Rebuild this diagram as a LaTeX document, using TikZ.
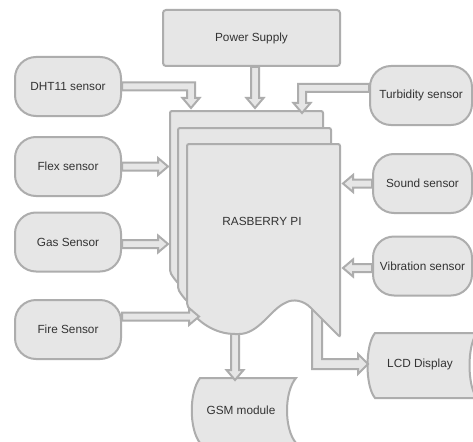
\documentclass[tikz,border=0pt]{standalone}
\usepackage{fontspec}
\setmainfont{Liberation Sans}
\usetikzlibrary{calc}
\definecolor{shapefill}{HTML}{E6E6E6}
\definecolor{shapeline}{HTML}{ADADAD}
\definecolor{txtcol}{HTML}{333333}
\newcommand\diagfont{\fontsize{11.8}{13}\selectfont}
\tikzset{
  base/.style={draw=shapeline, fill=shapefill, line width=2pt},
  sensor/.style={base, rounded corners=21pt, minimum width=106pt, minimum height=59pt, inner sep=0pt, text=txtcol, font=\diagfont},
  lbl/.style={text=txtcol, font=\diagfont, inner sep=0pt},
  barrow/.style={base, line join=miter},
  docshape/.pic={\draw[base, rounded corners=2pt] (187,144) -- (340,144) -- (340,337) -- (312,309)
     .. controls (303,300) and (293,299) .. (285,303)
     .. controls (270,311) and (258,334) .. (237,334)
     .. controls (215,334) and (197,322) .. (187,305) -- cycle;}
}
\newcommand\blockarrow[2]{%
  \coordinate (hb) at ($(#2)!10pt!(#1)$);
  \draw[barrow] ($(#1)!4pt!90:(#2)$) -- ($(hb)!4pt!-90:(#1)$) -- ($(hb)!8.5pt!-90:(#1)$) -- (#2)
    -- ($(hb)!8.5pt!90:(#1)$) -- ($(hb)!4pt!90:(#1)$) -- ($(#1)!4pt!-90:(#2)$) -- cycle;
}
\begin{document}
\begin{tikzpicture}[x=1pt,y=-1pt]
\useasboundingbox (0,0) rectangle (473,441);
\clip (0,0) rectangle (473,441);
\fill[white] (0,0) rectangle (473,441);

% top box and sensors
\node[base, rounded corners=3pt, minimum width=177pt, minimum height=56pt, lbl] (ps) at (251.5,38) {Power Supply};
\node[sensor] (dht)  at (68,86.5)  {DHT11 sensor};
\node[sensor] (flex) at (68,166.5) {Flex sensor};
\node[sensor] (gas)  at (68,242)   {Gas Sensor};
\node[sensor] (fire) at (68,329.5) {Fire Sensor};
\node[sensor, minimum width=102pt] (turb)  at (421,95.5)   {Turbidity sensor};
\node[sensor, minimum width=99pt]  (sound) at (422.5,183.5) {Sound sensor};
\node[sensor, minimum width=99pt]  (vib)   at (422.5,266)   {Vibration sensor};

% back documents
\pic at (-17,-33) {docshape};
\pic at (-9,-16) {docshape};

% stored-data shapes
\draw[base] (200,378) -- (296,378) .. controls (284,392) and (284,429) .. (296,443)
  -- (200,443) .. controls (189,429) and (189,392) .. (200,378) -- cycle;
\node[lbl] (gsm) at (241,410) {GSM module};
\draw[base] (375,333) -- (477,333) .. controls (467,345) and (467,386) .. (477,398)
  -- (375,398) .. controls (365,386) and (365,345) .. (375,333) -- cycle;
\node[lbl] (lcd) at (420,364) {LCD Display};

% outputs (behind front document)
\coordinate (gsms) at (235,326);
\coordinate (gsmt) at (235,380);
\blockarrow{gsms}{gsmt}
\coordinate (lcds) at (317,305);
\coordinate (lcdt) at (368,364);
\draw[barrow] ($(lcds)+(-5,0)$) -- ($(lcds |- lcdt)+(-5,5)$) -- ($(lcdt)+(-10,5)$) -- ($(lcdt)+(-10,10)$)
  -- (lcdt) -- ($(lcdt)+(-10,-10)$) -- ($(lcdt)+(-10,-5)$) -- ($(lcds |- lcdt)+(5,-5)$)
  -- ($(lcds)+(5,0)$) -- cycle;

% front document
\pic at (0,0) {docshape};
\node[lbl] (rpi) at (262,221) {RASBERRY PI};

% inputs
\coordinate (pss) at ($(ps.south)+(3.5,0)$);
\coordinate (pst) at (255,108);
\blockarrow{pss}{pst}

\coordinate (dhtt) at (191,108);
\draw[barrow] ($(dht.east)+(0,-4)$) -- ($(dhtt |- dht.east)+(4,-4)$) -- ($(dhtt)+(4,-10)$) -- ($(dhtt)+(8.5,-10)$)
  -- (dhtt) -- ($(dhtt)+(-8.5,-10)$) -- ($(dhtt)+(-4,-10)$) -- ($(dhtt |- dht.east)+(-4,4)$)
  -- ($(dht.east)+(0,4)$) -- cycle;

\coordinate (turbs) at ($(turb.west)+(0,-7.5)$);
\coordinate (turbt) at (302,113);
\draw[barrow] ($(turbs)+(0,-4)$) -- ($(turbt |- turbs)+(-4,-4)$) -- ($(turbt)+(-4,-10)$) -- ($(turbt)+(-8.5,-10)$)
  -- (turbt) -- ($(turbt)+(8.5,-10)$) -- ($(turbt)+(4,-10)$) -- ($(turbt |- turbs)+(4,4)$)
  -- ($(turbs)+(0,4)$) -- cycle;

\coordinate (flext) at ($(flex.east)+(46,0)$);
\blockarrow{flex.east}{flext}
\coordinate (gass) at ($(gas.east)+(0,2)$);
\coordinate (gast) at ($(gass)+(46,0)$);
\blockarrow{gass}{gast}
\coordinate (fires) at ($(fire.east)+(0,-13)$);
\coordinate (firet) at ($(fires)+(77,0)$);
\blockarrow{fires}{firet}
\coordinate (soundt) at ($(sound.west)+(-29,0)$);
\blockarrow{sound.west}{soundt}
\coordinate (vibs) at ($(vib.west)+(0,2)$);
\coordinate (vibt) at ($(vibs)+(-29,0)$);
\blockarrow{vibs}{vibt}
\end{tikzpicture}
\end{document}
